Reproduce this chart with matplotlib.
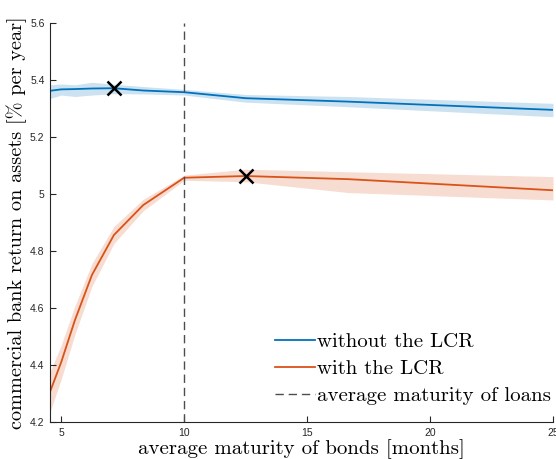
import matplotlib
matplotlib.use("Agg")
import matplotlib.pyplot as plt
import numpy as np

# bond maturities [months]
maturity = [50/11, 5.0, 50/9, 6.25, 50/7, 50/6, 10.0, 12.5, 50/3, 25.0]

# without the LCR
ret_no_lcr = [5.362, 5.367, 5.368, 5.370, 5.371, 5.363, 5.357, 5.336, 5.324, 5.295]
lo_no_lcr = [5.335, 5.347, 5.342, 5.347, 5.352, 5.351, 5.347, 5.322, 5.306, 5.271]
hi_no_lcr = [5.383, 5.386, 5.383, 5.392, 5.385, 5.377, 5.367, 5.349, 5.342, 5.318]

# with the LCR
ret_lcr = [4.306, 4.41, 4.557, 4.716, 4.856, 4.961, 5.057, 5.063, 5.052, 5.013]
lo_lcr = [4.236, 4.35, 4.507, 4.676, 4.826, 4.941, 5.048, 5.043, 5.005, 4.979]
hi_lcr = [4.376, 4.47, 4.607, 4.756, 4.886, 4.981, 5.066, 5.087, 5.078, 5.061]

# optimum markers
opt_x = [50/7, 12.5]
opt_y = [5.371, 5.063]

loan_maturity = 10

blue = '#0072BD'
orange = '#D95319'

fig = plt.figure(figsize=(5.56, 4.59), dpi=100)
ax = fig.add_axes([0.09, 0.0806, 0.9046, 0.8694])

ax.fill_between(maturity, lo_no_lcr, hi_no_lcr, color=blue, alpha=0.2, lw=0)
ax.fill_between(maturity, lo_lcr, hi_lcr, color=orange, alpha=0.2, lw=0)
ax.plot(maturity, ret_no_lcr, color=blue, lw=1.3, label='without the LCR')
ax.plot(maturity, ret_lcr, color=orange, lw=1.3, label='with the LCR')
ax.axvline(loan_maturity, color='0.3', lw=1.0, ls=(0, (6, 3.5)), label='average maturity of loans')
ax.plot(opt_x, opt_y, 'x', color='k', ms=10, mew=1.8)

ax.set_xlim(50/11, 25)
ax.set_ylim(4.2, 5.6)
ax.set_xticks([5, 10, 15, 20, 25])
ax.set_yticks([4.2, 4.4, 4.6, 4.8, 5.0, 5.2, 5.4, 5.6])
ax.set_yticklabels(['4.2', '4.4', '4.6', '4.8', '5', '5.2', '5.4', '5.6'])
for lab in ax.get_xticklabels() + ax.get_yticklabels():
    lab.set_family('Liberation Sans')
ax.tick_params(direction='in', length=4, width=0.8, labelsize=7.5, colors='0.15', pad=4)
ax.spines['top'].set_visible(False)
ax.spines['right'].set_visible(False)
for s in ['left', 'bottom']:
    ax.spines[s].set_color('0.15')
    ax.spines[s].set_linewidth(0.8)

ax.set_xlabel('average maturity of bonds [months]', family='cmr10', fontsize=15, labelpad=1)
ax.set_ylabel('commercial bank return on assets [% per year]', family='cmr10', fontsize=14.6, labelpad=2)

leg = ax.legend(loc='lower right', bbox_to_anchor=(1.016, 0.016), frameon=False,
                prop={'family': 'cmr10', 'size': 15},
                handlelength=1.9, handletextpad=0.1, labelspacing=0.4,
                borderaxespad=0.1)

fig.savefig('out.png', dpi=100)
